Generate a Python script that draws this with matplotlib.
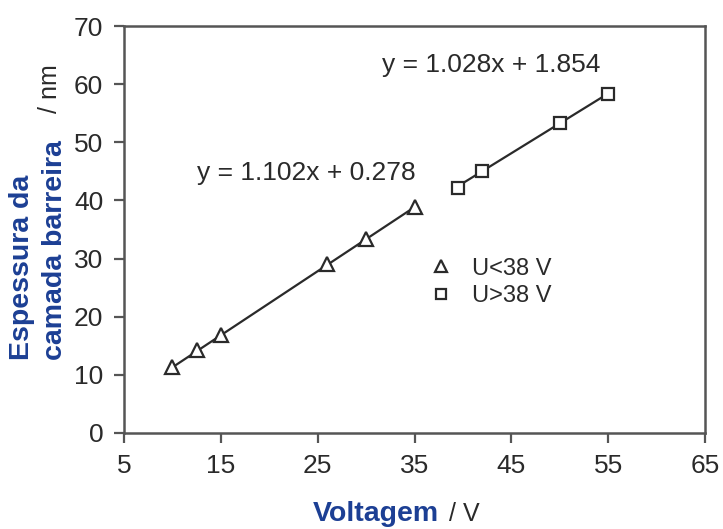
import matplotlib
matplotlib.use("Agg")
import matplotlib.pyplot as plt
import numpy as np

plt.rcParams['font.family'] = ['Liberation Sans', 'DejaVu Sans']

# Data
v_low = [10, 12.5, 15, 26, 30, 35]
t_low = [11.3, 14.2, 16.8, 29.0, 33.3, 38.8]
v_high = [39.5, 42, 50, 55]
t_high = [42.2, 45.0, 53.3, 58.3]
fit_low = (1.102, 0.278)
fit_high = (1.028, 1.854)
label_low = "U<38 V"
label_high = "U>38 V"
eq_low = "y = 1.102x + 0.278"
eq_high = "y = 1.028x + 1.854"
xticks = [5, 15, 25, 35, 45, 55, 65]
yticks = [0, 10, 20, 30, 40, 50, 60, 70]

W, H = 723, 529
fig = plt.figure(figsize=(W/100, H/100), dpi=100)
ax = fig.add_axes([124/W, 1-433/H, (705-124)/W, (433-26)/H])

dark = '#2a2a2a'
blue = '#1c3f94'

# fit lines over the data range
for xs, (m, b) in ((v_low, fit_low), (v_high, fit_high)):
    xx = np.array([min(xs), max(xs)])
    ax.plot(xx, m*xx + b, color=dark, lw=1.6, zorder=2)

ax.plot(v_low, t_low, linestyle='none', marker='^', markersize=10, mfc='white',
        mec=dark, mew=1.6, label=label_low, zorder=3)
ax.plot(v_high, t_high, linestyle='none', marker='s', markersize=8.5, mfc='white',
        mec=dark, mew=1.6, label=label_high, zorder=3)

ax.set_xlim(5, 65)
ax.set_ylim(0, 70)
ax.set_xticks(xticks)
ax.set_yticks(yticks)
ax.tick_params(direction='out', length=7, width=1.6, color='#555555',
               labelsize=19, labelcolor=dark, pad=8)
for s in ax.spines.values():
    s.set_color('#555555')
    s.set_linewidth(1.8)

ax.text(12.54, 43.5, eq_low, fontsize=19, color=dark, ha='left', va='baseline')
ax.text(31.6, 62.1, eq_high, fontsize=19, color=dark, ha='left', va='baseline')

leg = ax.legend(loc='center left', bbox_to_anchor=((429-124)/581, (433-282.5)/407),
                frameon=False, fontsize=17, handlelength=1.0, handletextpad=0.8,
                borderpad=0, borderaxespad=0, labelspacing=0.25, markerscale=0.9)
for t in leg.get_texts():
    t.set_color(dark)

# y label
fig.text(22/W, 1-360/H, "Espessura da", rotation=90, ha='center', va='bottom',
         fontsize=20.5, fontweight='bold', color=blue)
fig.text(55/W, 1-360/H, "camada barreira", rotation=90, ha='center', va='bottom',
         fontsize=20.5, fontweight='bold', color=blue)
fig.text(50/W, 1-113/H, "/ nm", rotation=90, ha='center', va='bottom',
         fontsize=18, color=dark)

# x label
fig.text(313/W, 1-521/H, "Voltagem", ha='left', va='baseline',
         fontsize=20.5, fontweight='bold', color=blue)
fig.text(442/W, 1-521/H, " / V", ha='left', va='baseline', fontsize=18, color=dark)

fig.savefig('out.png', dpi=100)
